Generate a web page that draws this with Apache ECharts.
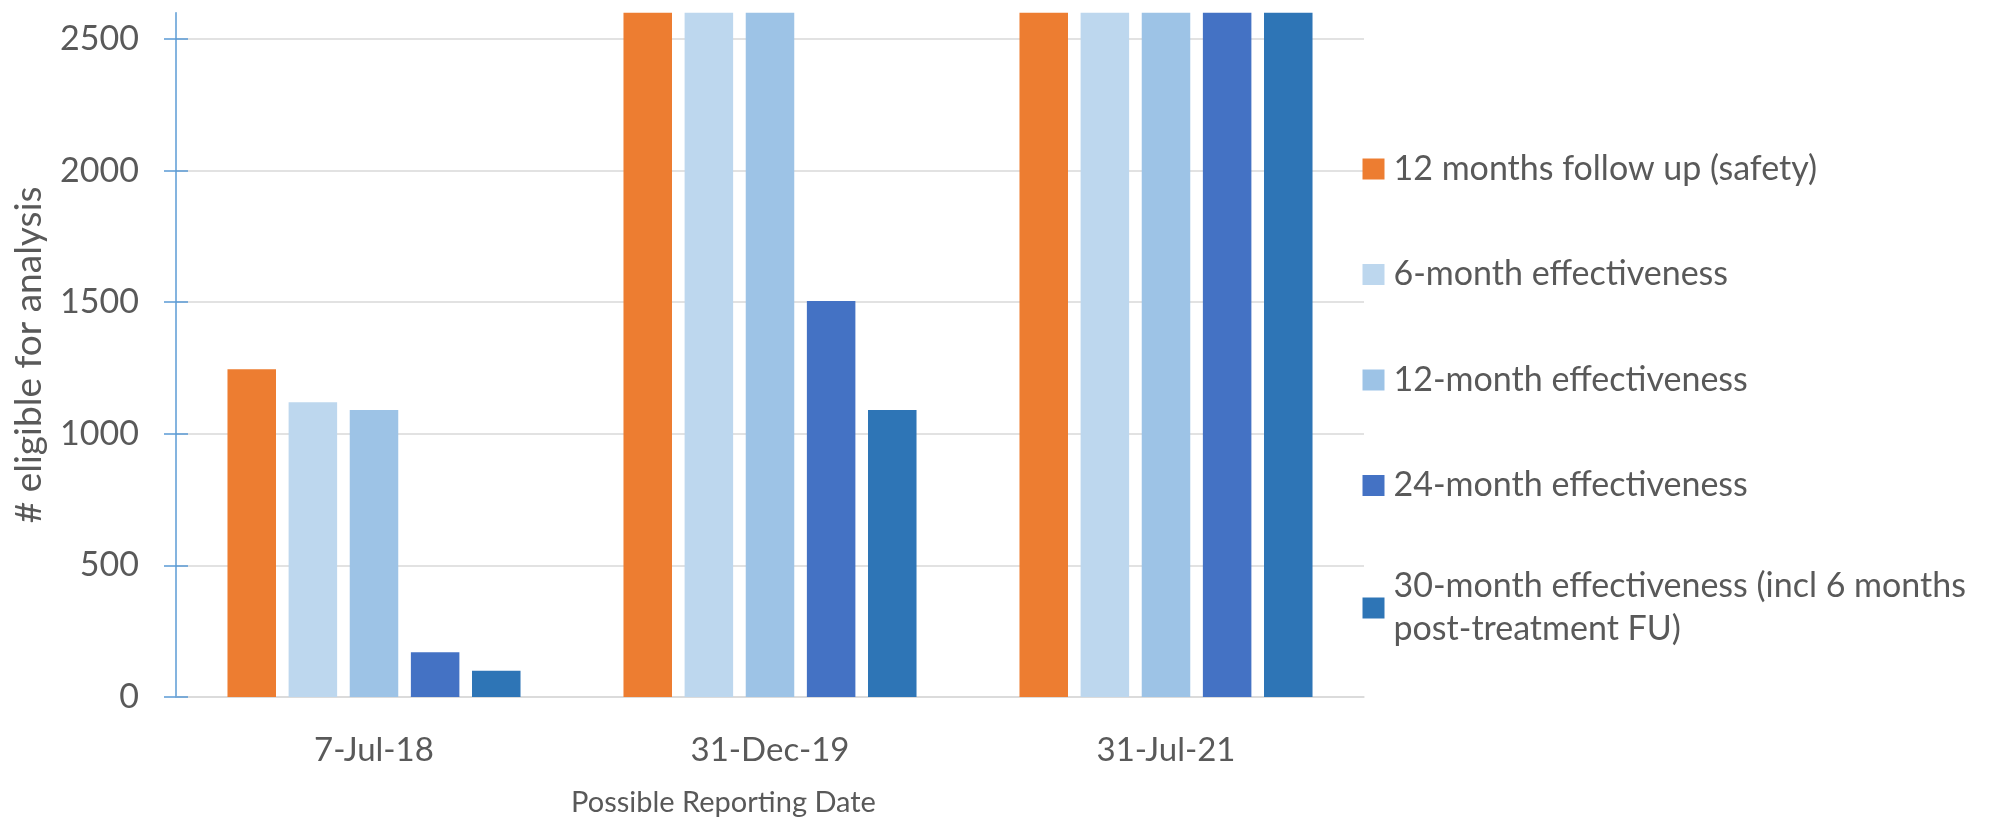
<!DOCTYPE html>
<html>
<head>
<meta charset="utf-8">
<title># eligible for analysis by reporting date</title>
<script src="https://cdn.jsdelivr.net/npm/echarts@6/dist/echarts.min.js"></script>
<style>
  html, body { margin: 0; padding: 0; background: #ffffff; }
  #chart { width: 1990px; height: 825px; }
</style>
</head>
<body>
<div id="chart"></div>
<script>
// Reporting dates on the category axis
const categories = ['7-Jul-18', '31-Dec-19', '31-Jul-21'];

// Series names (legend order)
const seriesNames = [
  '12 months follow up (safety)',
  '6-month effectiveness',
  '12-month effectiveness',
  '24-month effectiveness',
  '30-month effectiveness (incl 6 months post-treatment FU)'
];

// Number eligible per reporting date; bars above the axis maximum run off the top
const safety12m = [1245, 2650, 2650];
const effect6m = [1120, 2650, 2650];
const effect12m = [1090, 2650, 2650];
const effect24m = [170, 1505, 2650];
const effect30m = [100, 1090, 2650];

// Value axis ticks and range
const yTicks = [0, 500, 1000, 1500, 2000, 2500];
const yMin = 0;
const yMax = 2600;

const seriesValues = [safety12m, effect6m, effect12m, effect24m, effect30m];
const seriesColors = ['#ED7D31', '#BDD7EE', '#9DC3E6', '#4472C4', '#2E75B6'];

const FONT = 'Lato';
const TEXT = '#595959';

const chart = echarts.init(document.getElementById('chart'), null, { renderer: 'canvas' });

const option = {
  backgroundColor: '#ffffff',
  animation: false,
  textStyle: { fontFamily: FONT, color: TEXT },
  grid: { left: 176, right: 626, top: 12.7, bottom: 128, containLabel: false },
  legend: {
    orient: 'vertical',
    left: 1362.5,
    top: 147.5,
    padding: 0,
    itemGap: 62.5,
    itemWidth: 22,
    itemHeight: 21,
    icon: 'rect',
    textStyle: {
      fontFamily: FONT, fontSize: 34, color: TEXT, lineHeight: 43,
      padding: [0, 0, 0, 4]
    },
    formatter: function (name) {
      return name.replace(' post-treatment', '\npost-treatment');
    },
    data: seriesNames.map(function (n, i) {
      return i === seriesNames.length - 1
        ? { name: n, textStyle: { padding: [0, 0, -43, 4] } }
        : { name: n };
    })
  },
  xAxis: {
    type: 'category',
    data: categories,
    name: 'Possible Reporting Date',
    nameLocation: 'middle',
    nameGap: 91,
    nameTextStyle: {
      fontFamily: FONT, fontSize: 29, color: TEXT,
      verticalAlign: 'top', padding: [0, 93, 0, 0]
    },
    axisLine: { show: true, lineStyle: { color: '#D9D9D9', width: 1.5 } },
    axisTick: { show: false },
    axisLabel: { fontFamily: FONT, fontSize: 33, color: TEXT, margin: 37 },
    splitLine: { show: false }
  },
  yAxis: [
    {
      type: 'value',
      min: yMin,
      max: yMax,
      name: '# eligible for analysis',
      nameLocation: 'middle',
      nameGap: 128,
      nameTextStyle: { fontFamily: FONT, fontSize: 37, color: TEXT },
      axisLine: { show: true, lineStyle: { color: '#5B9BD5', width: 1.5 } },
      axisTick: {
        show: true, length: 12, customValues: yTicks,
        lineStyle: { color: '#5B9BD5', width: 1.5 }
      },
      axisLabel: {
        fontFamily: FONT, fontSize: 34, color: TEXT, margin: 37,
        customValues: yTicks,
        formatter: function (v) { return String(v); }
      },
      splitLine: { show: true, lineStyle: { color: '#D9D9D9', width: 1.5 } }
    },
    {
      // inner half of the crossing tick marks
      type: 'value',
      min: yMin,
      max: yMax,
      position: 'left',
      axisLine: { show: false },
      axisTick: {
        show: true, inside: true, length: 12, customValues: yTicks,
        lineStyle: { color: '#5B9BD5', width: 1.5 }
      },
      axisLabel: { show: false },
      splitLine: { show: false }
    }
  ],
  series: seriesNames.map(function (name, i) {
    return {
      name: name,
      type: 'bar',
      yAxisIndex: 0,
      data: seriesValues[i],
      barGap: '26%',
      barCategoryGap: '26%',
      clip: true,
      itemStyle: { color: seriesColors[i] }
    };
  })
};

chart.setOption(option);
</script>
</body>
</html>
